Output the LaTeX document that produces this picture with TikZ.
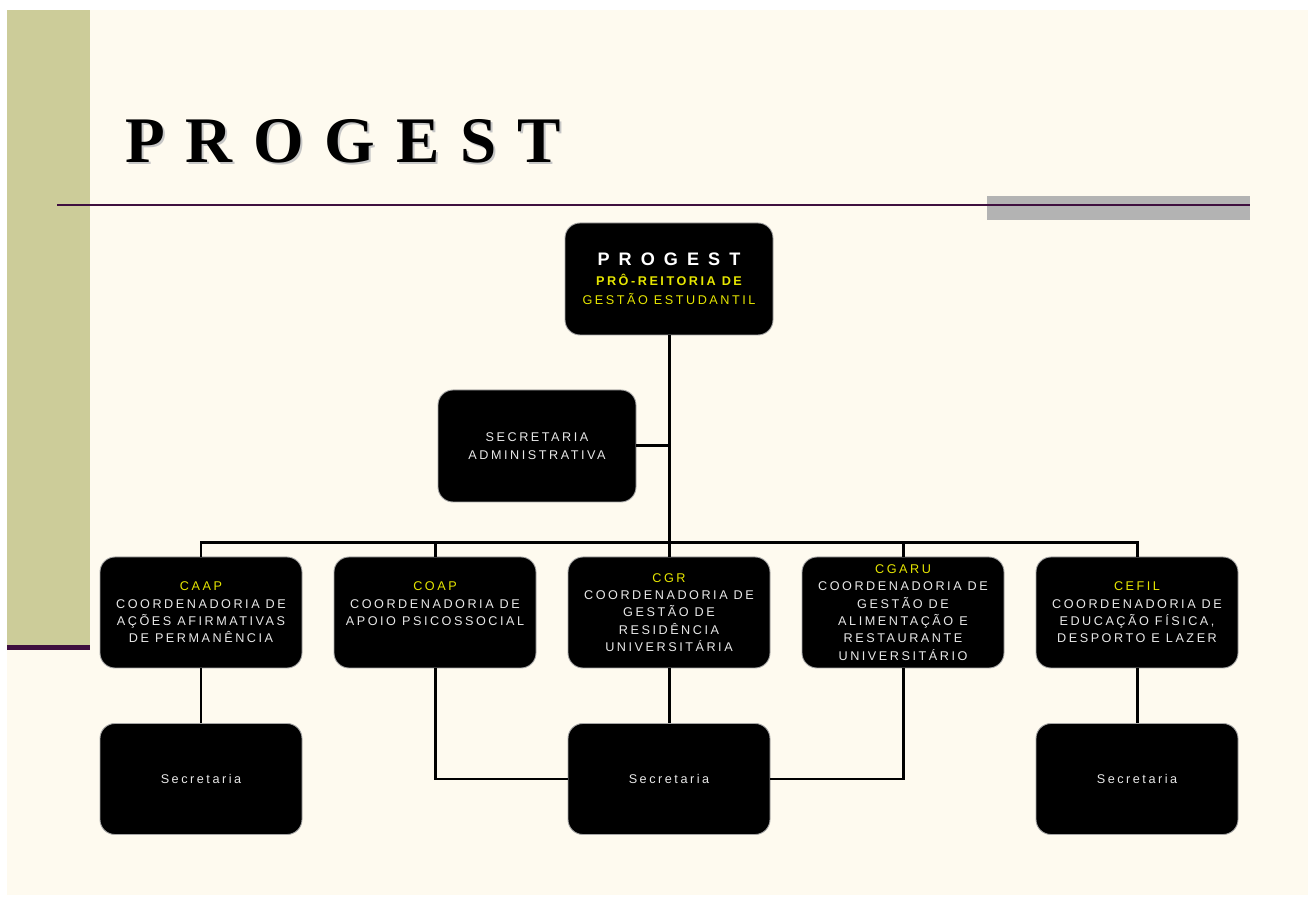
\documentclass[tikz,border=0pt]{standalone}
\usepackage{fontspec}
\setmainfont{Liberation Sans}
\newfontfamily\titlefont{Liberation Serif}[LetterSpace=32]
\newfontfamily\boxfont{Liberation Sans}[LetterSpace=20]
\newfontfamily\headfont{Liberation Sans}[LetterSpace=50]
\definecolor{slideCream}{HTML}{FEFAEF}
\definecolor{slideOlive}{HTML}{CCCC99}
\definecolor{slidePlum}{HTML}{3F0F3F}
\definecolor{slideGray}{HTML}{B3B3B3}
\definecolor{boxWhite}{HTML}{E8E8E8}
\definecolor{boxYellow}{HTML}{E6E600}
\begin{document}
\begin{tikzpicture}[
    orgbox/.style={draw=gray!70, line width=0.5pt, fill=black, rounded corners=0.3cm,
        minimum width=4.04cm, minimum height=2.22cm, inner sep=0pt, align=center,
        text=boxWhite, font=\boxfont\fontsize{7.2}{9.85}\selectfont},
    link/.style={line width=1.7pt, black}]

    % slide background
    \useasboundingbox (0,0) rectangle (26.3,17.96);
    \fill [white] (0,0) rectangle (26.3,17.96);
    \fill [slideCream] (0.14,0.06) rectangle (26.16,17.76);
    \fill [slideOlive] (0.14,5.0) rectangle (1.8,17.76);
    \fill [slidePlum] (0.14,4.96) rectangle (1.8,5.06);

    % title
    \node (shadow) at (2.54,14.66) [anchor=base west, inner sep=0pt, text=gray!45,
        font=\titlefont\bfseries\fontsize{37}{40}\selectfont] {PROGEST};
    \node (title) at (2.5,14.7) [anchor=base west, inner sep=0pt,
        font=\titlefont\bfseries\fontsize{37}{40}\selectfont] {PROGEST};

    % rule under title
    \fill [slideGray] (19.74,13.56) rectangle (25.0,14.04);
    \draw [slidePlum, line width=1.2pt] (1.14,13.86) -- (25.0,13.86);

    % top boxes
    \node (top) at (13.38,12.38) [orgbox, minimum width=4.16cm, minimum height=2.24cm]
        {{\headfont\bfseries\fontsize{10.3}{15.4}\selectfont\textcolor{white}{PROGEST}}\\[1.5pt]
         \textcolor{boxYellow}{\bfseries PRÔ-REITORIA DE}\\[1pt]
         \textcolor{boxYellow}{GESTÃO ESTUDANTIL}};
    \node (sec) at (10.74,9.04) [orgbox, minimum width=3.96cm, minimum height=2.24cm]
        {SECRETARIA\\ADMINISTRATIVA};

    % coordinations
    \node (caap) at (4.02,5.71) [orgbox]
        {\textcolor{boxYellow}{CAAP}\\COORDENADORIA DE\\AÇÕES AFIRMATIVAS\\DE PERMANÊNCIA};
    \node (coap) at (8.70,5.71) [orgbox]
        {\textcolor{boxYellow}{COAP}\\COORDENADORIA DE\\APOIO PSICOSSOCIAL\\~};
    \node (cgr) at (13.38,5.71) [orgbox]
        {\textcolor{boxYellow}{CGR}\\COORDENADORIA DE\\GESTÃO DE\\RESIDÊNCIA\\UNIVERSITÁRIA};
    \node (cgaru) at (18.06,5.71) [orgbox]
        {\textcolor{boxYellow}{CGARU}\\COORDENADORIA DE\\GESTÃO DE\\ALIMENTAÇÃO E\\RESTAURANTE\\UNIVERSITÁRIO};
    \node (cefil) at (22.74,5.71) [orgbox]
        {\textcolor{boxYellow}{CEFIL}\\COORDENADORIA DE\\EDUCAÇÃO FÍSICA,\\DESPORTO E LAZER};

    % secretarias
    \node (seca) at (4.02,2.38) [orgbox] {Secretaria};
    \node (secb) at (13.38,2.38) [orgbox] {Secretaria};
    \node (secc) at (22.74,2.38) [orgbox] {Secretaria};

    % connectors
    \coordinate (bus) at (13.38,7.1);
    \draw [link] (top.south) -- (bus);
    \draw [link] (sec.east) -- (sec.east -| top.south);
    \draw [link] (caap.north) |- (bus -| cefil.north) -- (cefil.north);
    \foreach \n in {coap,cgr,cgaru}
        \draw [link] (\n.north) -- (\n.north |- bus);
    \draw [link] (caap.south) -- (seca.north);
    \draw [link] (cgr.south) -- (secb.north);
    \draw [link] (cefil.south) -- (secc.north);
    \draw [link] (coap.south) |- (secb.west);
    \draw [link] (cgaru.south) |- (secb.east);

\end{tikzpicture}
\end{document}
